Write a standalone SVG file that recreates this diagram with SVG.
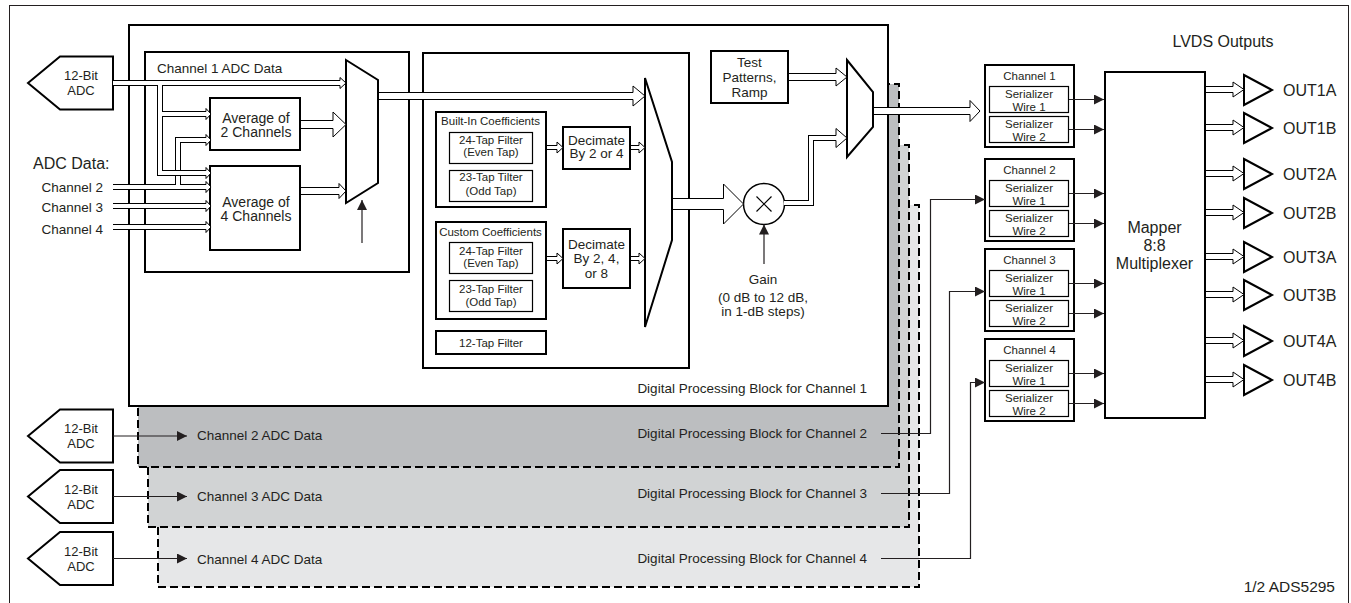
<svg xmlns="http://www.w3.org/2000/svg" width="1351" height="603" viewBox="0 0 1351 603">
<defs>
<style>
.frame{fill:none;stroke:#231f20;stroke-width:1}
.blk{fill:#fff;stroke:#000;stroke-width:2}
.thn{fill:#fff;stroke:#000;stroke-width:1.2}
.dsh{stroke:#000;stroke-width:2;stroke-dasharray:8 4}
.t{font-family:"Liberation Sans",Arial,Helvetica,sans-serif;fill:#231f20}
.f11{font-size:11.5px}.f13{font-size:13px}.f135{font-size:13.5px}.f14{font-size:14px}.f155{font-size:15.5px}.f16{font-size:16px}
.m{text-anchor:middle}.e{text-anchor:end}
.bk{fill:none;stroke:#000;stroke-linejoin:miter}
.wt{fill:none;stroke:#fff;stroke-linejoin:miter}
.hd{fill:#fff;stroke:#000;stroke-width:1;stroke-linejoin:miter}
.ln{fill:none;stroke:#231f20;stroke-width:1.2;marker-end:url(#ah)}
.x{fill:none;stroke:#000;stroke-width:1.2}
</style>
<marker id="ah" viewBox="0 0 10 10" refX="10" refY="5" markerWidth="10" markerHeight="10" markerUnits="userSpaceOnUse" orient="auto"><path d="M0,0L10,5L0,10z" fill="#231f20"/></marker>
</defs>
<rect x="0" y="0" width="1351" height="603" fill="#fff"/>
<rect class="frame" x="9.5" y="5.5" width="1339" height="610"/>

<g id="dpb4">
<rect class="dsh" x="158" y="205" width="761" height="382" fill="#e6e7e8"/>
<text class="t f135" x="197" y="563.7">Channel 4 ADC Data</text>
<text class="t f135 e" x="867" y="562.5">Digital Processing Block for Channel 4</text>
</g>
<g id="dpb3">
<rect class="dsh" x="148" y="145" width="761" height="382" fill="#d1d3d4"/>
<text class="t f135" x="197" y="500.5">Channel 3 ADC Data</text>
<text class="t f135 e" x="867" y="497.8">Digital Processing Block for Channel 3</text>
</g>
<g id="dpb2">
<rect class="dsh" x="138" y="84" width="761" height="383" fill="#bcbec0"/>
<text class="t f135" x="197" y="440">Channel 2 ADC Data</text>
<text class="t f135 e" x="867" y="437.8">Digital Processing Block for Channel 2</text>
</g>
<g id="dpb1">
<rect class="blk" x="129" y="25" width="759" height="381"/>
<text class="t f135 e" x="867" y="393">Digital Processing Block for Channel 1</text>
</g>

<g id="adc1">
<polygon class="blk" points="28,83 60,56.5 113,56.5 113,109.5 60,109.5"/>
<text class="t f13 m" x="81" y="80">12-Bit</text>
<text class="t f13 m" x="81" y="95">ADC</text>
</g>
<g id="adc2">
<polygon class="blk" points="28,436 60,409.5 113,409.5 113,462.5 60,462.5"/>
<text class="t f13 m" x="81" y="433">12-Bit</text>
<text class="t f13 m" x="81" y="448">ADC</text>
</g>
<g id="adc3">
<polygon class="blk" points="28,496.5 60,470 113,470 113,523 60,523"/>
<text class="t f13 m" x="81" y="493.5">12-Bit</text>
<text class="t f13 m" x="81" y="508.5">ADC</text>
</g>
<g id="adc4">
<polygon class="blk" points="28,558.5 60,532 113,532 113,585 60,585"/>
<text class="t f13 m" x="81" y="555.5">12-Bit</text>
<text class="t f13 m" x="81" y="570.5">ADC</text>
</g>

<g id="adc-data-inputs">
<text class="t f16" x="33" y="169">ADC Data:</text>
<text class="t f135 e" x="103" y="191.6">Channel 2</text>
<text class="t f135 e" x="103" y="212.2">Channel 3</text>
<text class="t f135 e" x="103" y="234.2">Channel 4</text>
</g>

<g id="ch1-adc-data">
<rect class="blk" x="145" y="52" width="264" height="220"/>
<text class="t f135" x="157" y="72.8">Channel 1 ADC Data</text>
</g>
<g id="avg2">
<rect class="blk" x="210" y="98" width="90" height="52"/>
<text class="t f14 m" x="256" y="123.3">Average of</text>
<text class="t f14 m" x="256" y="137.3">2 Channels</text>
</g>
<g id="avg4">
<rect class="blk" x="210" y="166" width="90" height="84"/>
<text class="t f14 m" x="256" y="206.7">Average of</text>
<text class="t f14 m" x="256" y="221">4 Channels</text>
</g>
<g id="mux1">
<polygon class="blk" points="346,60 378,80 378,183 346,203"/>
</g>

<g id="filter-block">
<rect class="blk" x="423" y="53" width="266" height="315"/>
</g>
<g id="builtin-coeff">
<rect class="blk" x="436" y="112" width="110" height="95"/>
<text class="t f11 m" x="490.5" y="125.1">Built-In Coefficients</text>
<rect class="thn" x="449.5" y="132.5" width="83" height="31"/>
<text class="t f11 m" x="491" y="144.1">24-Tap Filter</text>
<text class="t f11 m" x="491" y="156.1">(Even Tap)</text>
<rect class="thn" x="449.5" y="170.5" width="83" height="31"/>
<text class="t f11 m" x="491" y="181.4">23-Tap Tilter</text>
<text class="t f11 m" x="491" y="194.8">(Odd Tap)</text>
</g>
<g id="custom-coeff">
<rect class="blk" x="436" y="222" width="110" height="97"/>
<text class="t f11 m" x="490.5" y="235.8">Custom Coefficients</text>
<rect class="thn" x="449.5" y="242.5" width="83" height="31"/>
<text class="t f11 m" x="491" y="254.8">24-Tap Filter</text>
<text class="t f11 m" x="491" y="266.8">(Even Tap)</text>
<rect class="thn" x="449.5" y="280.5" width="83" height="31"/>
<text class="t f11 m" x="491" y="292.8">23-Tap Filter</text>
<text class="t f11 m" x="491" y="305.8">(Odd Tap)</text>
</g>
<g id="tap12">
<rect class="blk" x="436" y="331" width="110" height="23"/>
<text class="t f11 m" x="491" y="346.8">12-Tap Filter</text>
</g>
<g id="decimate1">
<rect class="blk" x="563" y="127" width="67" height="42"/>
<text class="t f135 m" x="596.5" y="144.8">Decimate</text>
<text class="t f135 m" x="596.5" y="158.1">By 2 or 4</text>
</g>
<g id="decimate2">
<rect class="blk" x="563" y="229" width="67" height="59"/>
<text class="t f135 m" x="596.5" y="248.8">Decimate</text>
<text class="t f135 m" x="596.5" y="263.1">By 2, 4,</text>
<text class="t f135 m" x="596.5" y="278.1">or 8</text>
</g>
<g id="filter-mux">
<polygon class="blk" points="645,78 672,162 672,240 645,327"/>
</g>

<g id="gain-mult">
<circle cx="764" cy="204" r="20.5" fill="#fff" stroke="#000" stroke-width="1.5"/>
<path class="x" d="M756.5,196.5L771.5,211.5M771.5,196.5L756.5,211.5"/>
<text class="t f135 m" x="763" y="284.2">Gain</text>
<text class="t f135 m" x="763" y="301.5">(0 dB to 12 dB,</text>
<text class="t f135 m" x="763" y="315.6">in 1-dB steps)</text>
</g>
<g id="test-patterns">
<rect class="blk" x="711" y="51" width="77" height="52"/>
<text class="t f135 m" x="749.5" y="66.5">Test</text>
<text class="t f135 m" x="749.5" y="81.5">Patterns,</text>
<text class="t f135 m" x="749.5" y="96.5">Ramp</text>
</g>
<g id="mux2">
<polygon class="blk" points="847,60 873,92 873,127 847,157"/>
</g>

<g id="ser1">
<rect class="blk" x="985" y="65" width="89" height="82"/>
<text class="t f11 m" x="1029.5" y="80">Channel 1</text>
<rect class="thn" x="989.5" y="86.5" width="79" height="26"/>
<text class="t f11 m" x="1029" y="97.5">Serializer</text>
<text class="t f11 m" x="1029" y="110.5">Wire 1</text>
<rect class="thn" x="989.5" y="116.5" width="79" height="26"/>
<text class="t f11 m" x="1029" y="127.5">Serializer</text>
<text class="t f11 m" x="1029" y="140.5">Wire 2</text>
</g>
<g id="ser2">
<rect class="blk" x="985" y="159" width="89" height="82"/>
<text class="t f11 m" x="1029.5" y="174">Channel 2</text>
<rect class="thn" x="989.5" y="180.5" width="79" height="26"/>
<text class="t f11 m" x="1029" y="191.5">Serializer</text>
<text class="t f11 m" x="1029" y="204.5">Wire 1</text>
<rect class="thn" x="989.5" y="210.5" width="79" height="26"/>
<text class="t f11 m" x="1029" y="221.5">Serializer</text>
<text class="t f11 m" x="1029" y="234.5">Wire 2</text>
</g>
<g id="ser3">
<rect class="blk" x="985" y="249" width="89" height="82"/>
<text class="t f11 m" x="1029.5" y="264">Channel 3</text>
<rect class="thn" x="989.5" y="270.5" width="79" height="26"/>
<text class="t f11 m" x="1029" y="281.5">Serializer</text>
<text class="t f11 m" x="1029" y="294.5">Wire 1</text>
<rect class="thn" x="989.5" y="300.5" width="79" height="26"/>
<text class="t f11 m" x="1029" y="311.5">Serializer</text>
<text class="t f11 m" x="1029" y="324.5">Wire 2</text>
</g>
<g id="ser4">
<rect class="blk" x="985" y="339" width="89" height="82"/>
<text class="t f11 m" x="1029.5" y="354">Channel 4</text>
<rect class="thn" x="989.5" y="360.5" width="79" height="26"/>
<text class="t f11 m" x="1029" y="371.5">Serializer</text>
<text class="t f11 m" x="1029" y="384.5">Wire 1</text>
<rect class="thn" x="989.5" y="390.5" width="79" height="26"/>
<text class="t f11 m" x="1029" y="401.5">Serializer</text>
<text class="t f11 m" x="1029" y="414.5">Wire 2</text>
</g>

<g id="mapper">
<rect class="blk" x="1105" y="72" width="100" height="346"/>
<text class="t f16 m" x="1154.5" y="232.7">Mapper</text>
<text class="t f16 m" x="1154.5" y="250.7">8:8</text>
<text class="t f16 m" x="1154.5" y="268.7">Multiplexer</text>
</g>

<g id="lvds-outputs">
<text class="t f16 m" x="1223" y="46.7">LVDS Outputs</text>
<polygon class="blk" points="1244,75 1272,90 1244,105"/><text class="t f16" x="1283" y="95.8">OUT1A</text>
<polygon class="blk" points="1244,113 1272,128 1244,143"/><text class="t f16" x="1283" y="133.8">OUT1B</text>
<polygon class="blk" points="1244,159 1272,174 1244,189"/><text class="t f16" x="1283" y="179.8">OUT2A</text>
<polygon class="blk" points="1244,198 1272,213 1244,228"/><text class="t f16" x="1283" y="218.8">OUT2B</text>
<polygon class="blk" points="1244,242 1272,257 1244,272"/><text class="t f16" x="1283" y="262.8">OUT3A</text>
<polygon class="blk" points="1244,280 1272,295 1244,310"/><text class="t f16" x="1283" y="300.8">OUT3B</text>
<polygon class="blk" points="1244,326 1272,341 1244,356"/><text class="t f16" x="1283" y="346.8">OUT4A</text>
<polygon class="blk" points="1244,365 1272,380 1244,395"/><text class="t f16" x="1283" y="385.8">OUT4B</text>
</g>

<g id="footer">
<text class="t f155 e" x="1335" y="591.7">1/2 ADS5295</text>
</g>

<g id="connectors">
<!-- channel 2 input bus -->
<path class="bk" stroke-width="6" d="M113,187H206.5M178,187V140H206.5"/>
<path class="wt" stroke-width="4" d="M113,187H206.5M178,187V140H206.5"/>
<path class="hd" d="M206,184.5V181.5L211,187L206,192.5V189.5"/>
<path class="hd" d="M206,137.5V134.5L211,140L206,145.5V142.5"/>
<!-- channel 1 ADC bus -->
<path class="bk" stroke-width="6" d="M113,83H340.5M160,83V173H206.5M160,114H206.5"/>
<path class="wt" stroke-width="4" d="M113,83H340.5M160,83V173H206.5M160,114H206.5"/>
<path class="hd" d="M340,80.5V77.5L346,83L340,88.5V85.5"/>
<path class="hd" d="M206,111.5V108.5L211,114L206,119.5V116.5"/>
<path class="hd" d="M206,170.5V167.5L211,173L206,178.5V175.5"/>
<!-- channel 3, 4 input buses -->
<path class="bk" stroke-width="6" d="M113,206H206.5M113,227H206.5"/>
<path class="wt" stroke-width="4" d="M113,206H206.5M113,227H206.5"/>
<path class="hd" d="M206,203.5V200.5L211,206L206,211.5V208.5"/>
<path class="hd" d="M206,224.5V221.5L211,227L206,232.5V229.5"/>
<!-- averages to mux1 -->
<path class="bk" stroke-width="9" d="M301,124.5H333.5"/>
<path class="wt" stroke-width="7" d="M301,124.5H333.5"/>
<path class="hd" d="M333,120.5V112L346,124.5L333,137V128.5"/>
<path class="bk" stroke-width="8" d="M301,191H339.5"/>
<path class="wt" stroke-width="6" d="M301,191H339.5"/>
<path class="hd" d="M339,187.5V183.5L346,191L339,198.5V194.5"/>
<!-- mux1 to filter mux -->
<path class="bk" stroke-width="8" d="M379,96H633.5"/>
<path class="wt" stroke-width="6" d="M379,96H633.5"/>
<path class="hd" d="M633,92.5V86L645,96L633,106V99.5"/>
<!-- filter chains -->
<path class="bk" stroke-width="5" d="M547,147.5H557.5M631,147.5H639.5M547,258.5H557.5M631,258.5H639.5"/>
<path class="wt" stroke-width="3" d="M547,147.5H557.5M631,147.5H639.5M547,258.5H557.5M631,258.5H639.5"/>
<path class="hd" d="M557,145.5V142L563,147.5L557,153V149.5"/>
<path class="hd" d="M639,145.5V142L645,147.5L639,153V149.5"/>
<path class="hd" d="M557,256.5V253L563,258.5L557,264V260.5"/>
<path class="hd" d="M639,256.5V253L645,258.5L639,264V260.5"/>
<!-- filter mux to gain -->
<path class="bk" stroke-width="12" d="M673,204H724"/>
<path class="wt" stroke-width="10" d="M673,204H724"/>
<path class="hd" d="M723.5,198.5V184L743.5,204L723.5,224V209.5"/>
<!-- gain to mux2 -->
<path class="bk" stroke-width="6" d="M784,203H811V138H836.5"/>
<path class="wt" stroke-width="4" d="M784,203H811V138H836.5"/>
<path class="hd" d="M836,135.5V128.5L847,138L836,147.5V140.5"/>
<!-- test patterns to mux2 -->
<path class="bk" stroke-width="8" d="M789,77H836.5"/>
<path class="wt" stroke-width="6" d="M789,77H836.5"/>
<path class="hd" d="M836,73.5V68L847,77L836,86V80.5"/>
<!-- mux2 to serializer channel 1 -->
<path class="bk" stroke-width="8" d="M874,111H970.5"/>
<path class="wt" stroke-width="6" d="M874,111H970.5"/>
<path class="hd" d="M970,107.5V100.5L980,111L970,121.5V114.5"/>
<!-- mapper to LVDS buffers -->
<path class="bk" stroke-width="7" d="M1206,89.5H1233.5M1206,127.5H1233.5M1206,173.5H1233.5M1206,212.5H1233.5M1206,256.5H1233.5M1206,294.5H1233.5M1206,340.5H1233.5M1206,379.5H1233.5"/>
<path class="wt" stroke-width="5" d="M1206,89.5H1233.5M1206,127.5H1233.5M1206,173.5H1233.5M1206,212.5H1233.5M1206,256.5H1233.5M1206,294.5H1233.5M1206,340.5H1233.5M1206,379.5H1233.5"/>
<path class="hd" d="M1233,86.5V82L1244,89.5L1233,97V92.5"/>
<path class="hd" d="M1233,124.5V120L1244,127.5L1233,135V130.5"/>
<path class="hd" d="M1233,170.5V166L1244,173.5L1233,181V176.5"/>
<path class="hd" d="M1233,209.5V205L1244,212.5L1233,220V215.5"/>
<path class="hd" d="M1233,253.5V249L1244,256.5L1233,264V259.5"/>
<path class="hd" d="M1233,291.5V287L1244,294.5L1233,302V297.5"/>
<path class="hd" d="M1233,337.5V333L1244,340.5L1233,348V343.5"/>
<path class="hd" d="M1233,376.5V372L1244,379.5L1233,387V382.5"/>
<!-- thin connectors -->
<path class="ln" d="M113,436H187"/>
<path class="ln" d="M113,496.5H187"/>
<path class="ln" d="M113,558.5H187"/>
<path class="ln" d="M362,243V200"/>
<path class="ln" d="M764,264V224.5"/>
<path class="ln" d="M881,433.5H930.5V199.5H985"/>
<path class="ln" d="M881,493.5H949.5V291.5H985"/>
<path class="ln" d="M881,558.5H970.5V382.5H985"/>
<path class="ln" d="M1069,99.5H1104"/>
<path class="ln" d="M1069,129.5H1104"/>
<path class="ln" d="M1069,193.5H1104"/>
<path class="ln" d="M1069,223.5H1104"/>
<path class="ln" d="M1069,283.5H1104"/>
<path class="ln" d="M1069,313.5H1104"/>
<path class="ln" d="M1069,373.5H1104"/>
<path class="ln" d="M1069,403.5H1104"/>
</g>
</svg>
